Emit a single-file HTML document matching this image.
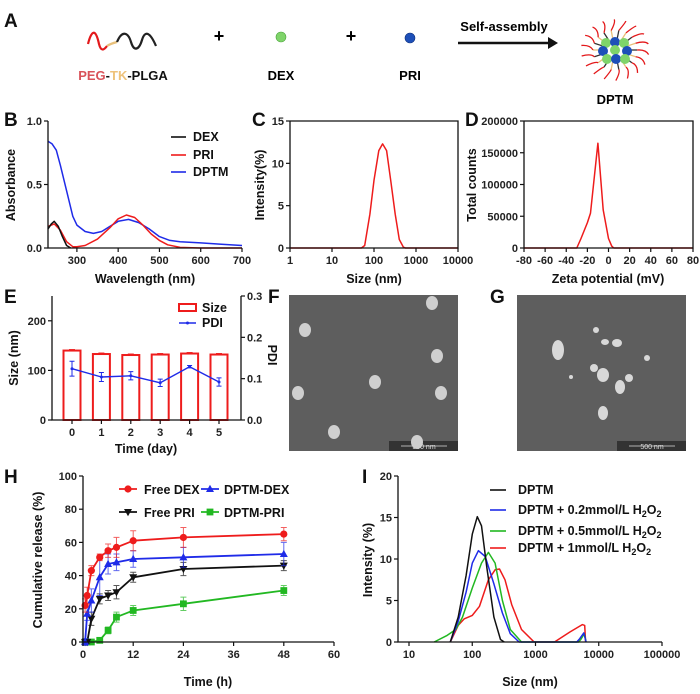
<!DOCTYPE html>
<html><head><meta charset="utf-8"><style>
html,body{margin:0;padding:0;background:#fff}
svg{display:block;font-family:"Liberation Sans",Arial,sans-serif}
.t{font-size:11px;font-weight:bold;fill:#222}
.at{font-size:12.5px;font-weight:bold;fill:#111}
.pl{font-size:19px;font-weight:bold;fill:#111}
</style></head><body>
<svg id="fig" width="700" height="694" viewBox="0 0 700 694" xmlns="http://www.w3.org/2000/svg">
<g>
<text class="pl" x="4" y="27">A</text>
<path d="M88,44 C92,28 96,30 99,44 C101,52 104,50 107,46" stroke="#e3191b" stroke-width="2.2" fill="none"/>
<path d="M107,46 C110,44 113,43 117,42" stroke="#e8c07a" stroke-width="2.2" fill="none"/>
<path d="M117,42 C122,30 128,32 131,42 C134,52 139,50 142,40 C145,30 150,32 156,46" stroke="#222" stroke-width="2.2" fill="none"/>
<text x="219" y="42" font-size="18" font-weight="bold" text-anchor="middle">+</text>
<circle cx="281" cy="37" r="5" fill="#7fd46a" stroke="#4aa33a" stroke-width="0.6"/>
<text x="351" y="42" font-size="18" font-weight="bold" text-anchor="middle">+</text>
<circle cx="410" cy="38" r="5" fill="#1d4fb8" stroke="#0d2f7a" stroke-width="0.6"/>
<text x="504" y="31" font-size="13" font-weight="bold" text-anchor="middle">Self-assembly</text>
<line x1="458" y1="43" x2="550" y2="43" stroke="#111" stroke-width="2.5"/>
<polygon points="548,37 558,43 548,49" fill="#111"/>
<g id="micelle"></g>
<text x="123" y="80" font-size="13" font-weight="bold" text-anchor="middle"><tspan fill="#d9535a">PEG</tspan><tspan fill="#111">-</tspan><tspan fill="#eec27a">TK</tspan><tspan fill="#111">-PLGA</tspan></text>
<text x="281" y="80" font-size="13" font-weight="bold" text-anchor="middle">DEX</text>
<text x="410" y="80" font-size="13" font-weight="bold" text-anchor="middle">PRI</text>
<text x="615" y="104" font-size="13" font-weight="bold" text-anchor="middle">DPTM</text>
</g>
<text class="pl" x="4" y="126">B</text>
<text class="pl" x="252" y="126">C</text>
<text class="pl" x="465" y="126">D</text>
<text class="pl" x="4" y="303">E</text>
<text class="pl" x="268" y="303">F</text>
<text class="pl" x="490" y="303">G</text>
<text class="pl" x="4" y="483">H</text>
<text class="pl" x="362" y="483">I</text>
<g id="sem"></g>
<g id="plots"></g>
</svg>
<script>
// ---- Panel B data ----
const bDexWl=[230,238,245,255,265,275,285,700];
const bDexAbs=[0.15,0.19,0.21,0.17,0.09,0.02,0,0];
const bPriWl=[230,245,260,275,290,300,320,350,380,400,420,440,460,480,500,520,550,600,700];
const bPriAbs=[0.17,0.19,0.14,0.05,0.01,0.01,0.02,0.07,0.16,0.23,0.26,0.24,0.18,0.11,0.06,0.025,0.005,0,0];
const bDptmWl=[230,240,250,260,275,290,300,320,340,360,380,400,425,450,475,500,525,550,600,650,700];
const bDptmAbs=[0.84,0.82,0.77,0.65,0.45,0.25,0.18,0.13,0.115,0.13,0.17,0.21,0.225,0.2,0.15,0.09,0.06,0.05,0.04,0.03,0.02];
const bXTicks=[300,400,500,600,700];
const bYTicks=[0,0.5,1.0];
// ---- Panel C data ----
const cSize=[1,50,60,80,100,130,160,200,250,320,400,500,560,10000];
const cInt=[0,0,0.3,4,8,11.5,12.3,11.5,8,4,1,0.1,0,0];
const cXTicks=[1,10,100,1000,10000];
const cYTicks=[0,5,10,15];
// ---- Panel D data ----
const dZeta=[-80,-30,-26,-20,-17,-10,-5,0,3,5,80];
const dCounts=[0,0,15000,40000,55000,165000,60000,15000,3000,0,0];
const dXTicks=[-80,-60,-40,-20,0,20,40,60,80];
const dYTicks=[0,50000,100000,150000,200000];
// ---- Panel E data ----
const eDays=[0,1,2,3,4,5];
const eSize=[140,133,131,132,134,132];
const eSizeErr=[2,2,2,2,2,2];
const ePdi=[0.124,0.104,0.107,0.090,0.129,0.092];
const ePdiErr=[0.018,0.011,0.010,0.009,0.003,0.010];
const eYTicks=[0,100,200];
const eY2Ticks=[0.0,0.1,0.2,0.3];
// ---- Panel H data ----
const hTime=[0.5,1,2,4,6,8,12,24,48];
const hFreeDex=[22,28,43,51,55,57,61,63,65];
const hFreeDexErr=[4,5,3,2,4,6,6,6,4];
const hDptmDex=[0,17,25,39,47,48,50,51,53];
const hDptmDexErr=[2,4,7,11,6,5,5,6,7];
const hFreePri=[0,0,14,26,28,30,39,44,46];
const hFreePriErr=[1,1,4,3,3,4,3,4,3];
const hDptmPri=[0,0,0,1,7,15,19,23,31];
const hDptmPriErr=[0,0,1,1,2,3,3,4,3];
const hXTicks=[0,12,24,36,48,60];
const hYTicks=[0,20,40,60,80,100];
// ---- Panel I data ----
const iDptmX=[45,60,80,100,120,140,170,220,280,320];
const iDptmY=[0,3,8,13,15.1,14,9,3,0.3,0];
const iB02X=[45,60,80,100,125,160,220,300,400,550,4500,5000,5800,6300];
const iB02Y=[0,2.5,6,9.5,11,10.3,7,3.5,1,0,0,0.4,1.1,0];
const iB05X=[25,40,55,70,100,140,180,230,300,400,600,4800,5200,5900,6300];
const iB05Y=[0,0.8,1.5,3,6.5,9.5,10.8,9.5,5,1.5,0,0,0.3,1,0];
const iB1X=[45,60,75,100,130,180,230,270,330,420,600,950,2000,3500,5500,6000,6200];
const iB1Y=[0,2,2.8,3.2,4.3,7.5,8.7,8.8,7.5,4.5,1.5,0,0,1.2,2.1,2,0];
const iXTicks=[10,100,1000,10000,100000];
const iYTicks=[0,5,10,15,20];

const NS='http://www.w3.org/2000/svg';
const root=document.getElementById('plots');
function mk(tag,attrs,parent){const e=document.createElementNS(NS,tag);for(const k in attrs)e.setAttribute(k,attrs[k]);(parent||root).appendChild(e);return e;}
function txt(s,x,y,cls,anchor,parent,rot){const e=mk('text',{x:x,y:y,'class':cls,'text-anchor':anchor||'middle'},parent);if(rot)e.setAttribute('transform','rotate(-90 '+x+' '+y+')');e.textContent=s;return e;}
function lin(d0,d1,r0,r1){return v=>r0+(v-d0)/(d1-d0)*(r1-r0);}
function lg(d0,d1,r0,r1){return v=>r0+(Math.log10(v)-Math.log10(d0))/(Math.log10(d1)-Math.log10(d0))*(r1-r0);}
function pathOf(xs,ys,X,Y){return xs.map((v,i)=>(i?'L':'M')+X(v).toFixed(1)+','+Y(ys[i]).toFixed(1)).join(' ');}
function axes(g,l,r,t,b,box){
  const ax=mk('path',{d:box?`M${l},${t}V${b}H${r}V${t}H${l}`:`M${l},${t}V${b}H${r}`,fill:'none',stroke:'#111','stroke-width':1.3},g);
  
  
}
function xticks(g,ticks,X,b,fmt){ticks.forEach(v=>{const x=X(v);mk('line',{x1:x,y1:b,x2:x,y2:b+4,stroke:'#111','stroke-width':1.2},g);const t=txt(fmt?fmt(v):String(v),x,b+16,'t','middle',g);});}
function yticks(g,ticks,Y,l,fmt,right){ticks.forEach(v=>{const y=Y(v);mk('line',{x1:l,y1:y,x2:right?l+4:l-4,y2:y,stroke:'#111','stroke-width':1.2},g);const t=txt(fmt?fmt(v):String(v),right?l+6:l-6,y+4,'t',right?'start':'end',g);});}
function curve(g,xs,ys,X,Y,color,name,w){const p=mk('path',{d:pathOf(xs,ys,X,Y),fill:'none',stroke:color,'stroke-width':w||1.5,'stroke-linejoin':'round'},g);return p;}

// ---- Micelle (A) ----
(function(){const g=document.getElementById('micelle');const cx=615,cy=50;
 for(let i=0;i<18;i++){const a=i/18*Math.PI*2;const r1=12,r2=22,r3=34;
  const x1=cx+Math.cos(a)*r1,y1=cy+Math.sin(a)*r1*0.9,x2=cx+Math.cos(a)*r2,y2=cy+Math.sin(a)*r2*0.9,x3=cx+Math.cos(a+0.15)*r3,y3=cy+Math.sin(a+0.15)*r3*0.9;
  mk('line',{x1:x1,y1:y1,x2:x2,y2:y2,stroke:i%2?'#e8c07a':'#333','stroke-width':1.3},g);
  mk('path',{d:`M${x2},${y2} Q${(x2+x3)/2+3},${(y2+y3)/2-3} ${x3},${y3}`,stroke:'#e3191b','stroke-width':1.3,fill:'none'},g);}
 [[-9,-7,'#7fd46a'],[0,-8,'#1d4fb8'],[9,-7,'#7fd46a'],[-12,1,'#1d4fb8'],[0,0,'#7fd46a'],[12,1,'#1d4fb8'],[-8,9,'#7fd46a'],[1,9,'#1d4fb8'],[10,9,'#7fd46a']].forEach(p=>mk('circle',{cx:cx+p[0],cy:cy+p[1],r:5,fill:p[2]},g));
})();

// ---- SEM (F,G) ----
(function(){const g=document.getElementById('sem');
 [[289,'f'],[517,'g']].forEach(([x0,n])=>{
  const r=mk('rect',{x:x0,y:295,width:169,height:156,fill:'#5e5e5e'},g);
  
  
  mk('rect',{x:x0+100,y:441,width:69,height:10,fill:'#333'},g);
  mk('line',{x1:x0+112,y1:446,x2:x0+158,y2:446,stroke:'#ddd','stroke-width':0.8},g);
  const s=mk('text',{x:x0+135,y:449,'font-size':7,fill:'#ddd','text-anchor':'middle'},g);s.textContent='500 nm';
  
  
 });
 [[432,303],[305,330],[437,356],[375,382],[298,393],[441,393],[334,432],[417,442]].forEach(p=>mk('ellipse',{cx:p[0],cy:p[1],rx:6,ry:7,fill:'#cfcfcf'},g));
 [[558,350,6,10],[596,330,3,3],[605,342,4,3],[617,343,5,4],[594,368,4,4],[603,375,6,7],[620,387,5,7],[629,378,4,4],[603,413,5,7],[647,358,3,3],[571,377,2,2]].forEach(p=>mk('ellipse',{cx:p[0],cy:p[1],rx:p[2],ry:p[3],fill:'#d8d8d8'},g));
})();

// ---- Panel B ----
(function(){const g=mk('g',{});
 const l=48,r=242,t=121,b=248;const X=lin(230,700,l,r),Y=lin(0,1,b,t);
 curve(g,bDptmWl,bDptmAbs,X,Y,'#1f2be8','series-dptm');
 curve(g,bPriWl,bPriAbs,X,Y,'#ee1c1c','series-pri');
 curve(g,bDexWl.slice(0,7),bDexAbs.slice(0,7),X,Y,'#111','series-dex');
 axes(g,l,r,t,b);xticks(g,bXTicks,X,b);yticks(g,bYTicks,Y,l,v=>v.toFixed(1));
 let tt=txt('Wavelength (nm)',145,283,'at','middle',g);
 tt=txt('Absorbance',15,185,'at','middle',g,true);
 [['DEX','#111',137],['PRI','#ee1c1c',155],['DPTM','#1f2be8',172]].forEach(([n,c,y])=>{mk('line',{x1:171,y1:y,x2:186,y2:y,stroke:c,'stroke-width':1.6},g);const e=txt(n,193,y+4,'at','start',g);});
})();
// ---- Panel C ----
(function(){const g=mk('g',{});
 const l=290,r=458,t=121,b=248;const X=lg(1,10000,l,r),Y=lin(0,15,b,t);
 curve(g,cSize,cInt,X,Y,'#ee1c1c','series-size-distribution');
 axes(g,l,r,t,b,true);xticks(g,cXTicks,X,b);yticks(g,cYTicks,Y,l);
 let tt=txt('Size (nm)',374,283,'at','middle',g);
 tt=txt('Intensity(%)',264,185,'at','middle',g,true);
})();
// ---- Panel D ----
(function(){const g=mk('g',{});
 const l=524,r=693,t=121,b=248;const X=lin(-80,80,l,r),Y=lin(0,200000,b,t);
 curve(g,dZeta,dCounts,X,Y,'#ee1c1c','series-zeta');
 axes(g,l,r,t,b,true);xticks(g,dXTicks,X,b);yticks(g,dYTicks,Y,l);
 let tt=txt('Zeta potential (mV)',608,283,'at','middle',g);
 tt=txt('Total counts',476,185,'at','middle',g,true);
})();
// ---- Panel E ----
(function(){const g=mk('g',{});
 const l=52,r=241,t=296,b=420;const X=lin(0,5,72,219),Y=lin(0,250,b,t),Y2=lin(0,0.3,b,t);
 eDays.forEach((d,i)=>{const x=X(d);const bar=mk('rect',{x:x-8.5,y:Y(eSize[i]),width:17,height:b-Y(eSize[i]),fill:'#fff',stroke:'#ee1c1c','stroke-width':2},g);
  
  
  mk('line',{x1:x-3,y1:Y(eSize[i]+eSizeErr[i]),x2:x+3,y2:Y(eSize[i]+eSizeErr[i]),stroke:'#ee1c1c','stroke-width':1},g);});
 curve(g,eDays,ePdi,X,Y2,'#1f2be8','series-pdi',1.4);
 eDays.forEach((d,i)=>{const x=X(d);mk('path',{d:`M${x},${Y2(ePdi[i]-ePdiErr[i])}V${Y2(ePdi[i]+ePdiErr[i])}M${x-2.5},${Y2(ePdi[i]-ePdiErr[i])}h5M${x-2.5},${Y2(ePdi[i]+ePdiErr[i])}h5`,stroke:'#1f2be8','stroke-width':1,fill:'none'},g);
  const p=mk('circle',{cx:x,cy:Y2(ePdi[i]),r:1.5,fill:'#1f2be8'},g);});
 axes(g,l,r,t,b);mk('line',{x1:r,y1:t,x2:r,y2:b,stroke:'#111','stroke-width':1.3},g);
 xticks(g,eDays,X,b);yticks(g,eYTicks,Y,l);yticks(g,eY2Ticks,Y2,r,v=>v.toFixed(1),true);
 let tt=txt('Time (day)',146,453,'at','middle',g);
 tt=txt('Size (nm)',18,358,'at','middle',g,true);
 tt=mk('text',{x:268,y:355,'class':'at','text-anchor':'middle',transform:'rotate(90 268 355)'},g);tt.textContent='PDI';
 mk('rect',{x:179,y:304,width:17,height:7,fill:'#fff',stroke:'#ee1c1c','stroke-width':2},g);
 let e=txt('Size',202,312,'at','start',g);
 mk('line',{x1:179,y1:323,x2:196,y2:323,stroke:'#1f2be8','stroke-width':1.5},g);mk('circle',{cx:187.5,cy:323,r:1.5,fill:'#1f2be8'},g);
 e=txt('PDI',202,327,'at','start',g);
})();
// ---- Panel H ----
function marker(g,shape,x,y,c){
 if(shape==='circle')return mk('circle',{cx:x,cy:y,r:3.6,fill:c},g);
 if(shape==='square')return mk('rect',{x:x-3.4,y:y-3.4,width:6.8,height:6.8,fill:c},g);
 if(shape==='up')return mk('polygon',{points:`${x},${y-4.2} ${x+4},${y+3} ${x-4},${y+3}`,fill:c},g);
 return mk('polygon',{points:`${x},${y+4.2} ${x+4},${y-3} ${x-4},${y-3}`,fill:c},g);}
(function(){const g=mk('g',{});
 const l=83,r=334,t=476,b=642;const X=lin(0,60,l,r),Y=lin(0,100,b,t);
 const series=[[hDptmPri,hDptmPriErr,'#22b822','square','dptm-pri'],[hFreePri,hFreePriErr,'#111','down','free-pri'],[hDptmDex,hDptmDexErr,'#1f2be8','up','dptm-dex'],[hFreeDex,hFreeDexErr,'#ee1c1c','circle','free-dex']];
 series.forEach(([v,er,c,s,n])=>{
  hTime.forEach((tm,i)=>{const x=X(tm),y1=Y(v[i]-er[i]),y2=Y(v[i]+er[i]);mk('path',{d:`M${x},${y1}V${y2}M${x-3},${y1}h6M${x-3},${y2}h6`,stroke:c,'stroke-width':1,opacity:0.7,fill:'none'},g);});
  curve(g,hTime,v,X,Y,c,'series-'+n,1.8);
  hTime.forEach((tm,i)=>{const m=marker(g,s,X(tm),Y(v[i]),c);});
 });
 axes(g,l,r,t,b);xticks(g,hXTicks,X,b);yticks(g,hYTicks,Y,l);
 let tt=txt('Time (h)',208,686,'at','middle',g);tt.setAttribute('font-size','15');
 tt=txt('Cumulative release (%)',42,560,'at','middle',g,true);tt.setAttribute('font-size','15');
 [['Free DEX','#ee1c1c','circle',128,144,489],['DPTM-DEX','#1f2be8','up',210,224,489],['Free PRI','#111','down',128,144,512],['DPTM-PRI','#22b822','square',210,224,512]].forEach(([n,c,s,mx,tx,y])=>{
  mk('line',{x1:mx-9,y1:y,x2:mx+9,y2:y,stroke:c,'stroke-width':1.8},g);marker(g,s,mx,y,c);
  const e=txt(n,tx,y+5,'at','start',g);e.setAttribute('font-size','13.5');e.setAttribute('font-weight','normal');});
})();
// ---- Panel I ----
(function(){const g=mk('g',{});
 const l=398,r=662,t=476,b=642;const X=lg(10,100000,409,662),Y=lin(0,20,b,t);
 curve(g,iB1X,iB1Y,X,Y,'#ee1c1c','series-1mmol');
 curve(g,iB05X,iB05Y,X,Y,'#22b822','series-0-5mmol');
 curve(g,iB02X,iB02Y,X,Y,'#1f2be8','series-0-2mmol');
 curve(g,iDptmX,iDptmY,X,Y,'#111','series-dptm');
 axes(g,l,r,t,b);xticks(g,iXTicks,X,b);yticks(g,iYTicks,Y,l);
 let tt=txt('Size (nm)',530,686,'at','middle',g);tt.setAttribute('font-size','14');
 tt=txt('Intensity (%)',372,560,'at','middle',g,true);tt.setAttribute('font-size','14');
 [['DPTM','#111',490,''],['DPTM + 0.2mmol/L H','#1f2be8',510,'x'],['DPTM + 0.5mmol/L H','#22b822',531,'x'],['DPTM + 1mmol/L H','#ee1c1c',548,'x']].forEach(([n,c,y,h])=>{
  mk('line',{x1:490,y1:y,x2:506,y2:y,stroke:c,'stroke-width':1.6},g);
  const e=mk('text',{x:518,y:y+4,'class':'at','text-anchor':'start'},g);
  if(h){e.innerHTML=n+'<tspan font-size="9" dy="3">2</tspan><tspan dy="-3">O</tspan><tspan font-size="9" dy="3">2</tspan>';}else e.textContent=n;});
})();
</script>
</body></html>
